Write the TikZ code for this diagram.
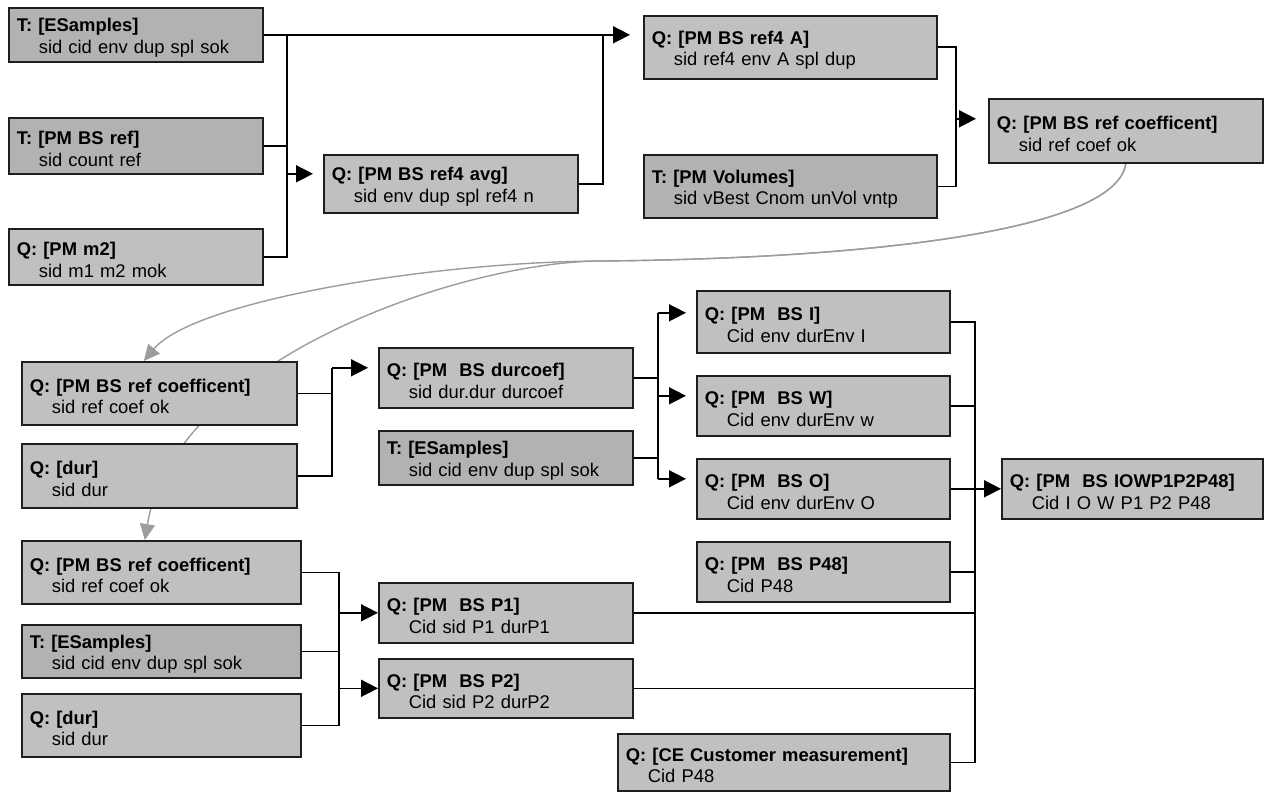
\documentclass[tikz,border=0pt]{standalone}
\usepackage{fontspec}
\setmainfont{Liberation Sans}
\usetikzlibrary{arrows.meta,calc}
\pgfdeclarelayer{bg}
\pgfsetlayers{bg,main}
\definecolor{qfill}{HTML}{C0C0C0}
\definecolor{tfill}{HTML}{B2B2B2}
\definecolor{edgec}{HTML}{1E1E1E}
\definecolor{curvec}{HTML}{9C9C9C}
\tikzset{
  qbox/.style={draw=edgec, line width=1.6pt, fill=qfill, anchor=north west,
    inner xsep=8pt, inner ysep=0pt, align=left, font=\fontsize{18.4}{21.5}\selectfont},
  tbox/.style={qbox, fill=tfill},
  link/.style={draw=black, line width=1.6pt},
  linkarr/.style={link, -{Triangle[length=17pt,width=17pt]}},
  gcurve/.style={draw=curvec, line width=1.4pt, -{Triangle[length=16pt,width=15pt]}},
}
\newcommand\bx[8]{%
  \pgfmathsetmacro\tw{#5-16}%
  \node[#1, minimum width=#5pt, minimum height=#6pt, text width=\tw pt] (#2) at (#3,#4)
    {\rule{0pt}{19.5pt}\textbf{#7}\\\hspace*{22pt}#8};%
}
\begin{document}
\begin{tikzpicture}[x=1pt,y=-1pt]
\useasboundingbox (0,0) rectangle (1265,792);

% boxes
\bx{tbox}{es1}{8}{7}{254}{54}{T: [ESamples]}{sid cid env dup spl sok}
\bx{tbox}{bsref}{8}{117}{254}{56}{T: [PM BS ref]}{sid count ref}
\bx{qbox}{m2}{8}{228}{254}{56}{Q: [PM m2]}{sid m1 m2 mok}
\bx{qbox}{avg}{323}{154}{254}{58}{Q: [PM BS ref4 avg]}{sid env dup spl ref4 n}
\bx{qbox}{r4a}{643}{15}{293}{63}{Q: [PM BS ref4 A]}{sid ref4 env A spl dup}
\bx{tbox}{vol}{643}{154}{293}{63}{T: [PM Volumes]}{sid vBest Cnom unVol vntp}
\bx{qbox}{coefT}{988}{98}{274}{64}{Q: [PM BS ref coefficent]}{sid ref coef ok}

\bx{qbox}{coefM}{21}{361}{275}{63}{Q: [PM BS ref coefficent]}{sid ref coef ok}
\bx{qbox}{dur1}{21}{443}{275}{64}{Q: [dur]}{sid dur}
\bx{qbox}{durcoef}{378}{347}{254}{60}{Q: [PM\ \ BS durcoef]}{sid dur.dur durcoef}
\bx{tbox}{es2}{378}{430}{254}{54}{T: [ESamples]}{sid cid env dup spl sok}

\bx{qbox}{bsI}{696}{290}{253}{62}{Q: [PM\ \ BS I]}{Cid env durEnv I}
\bx{qbox}{bsW}{696}{375}{253}{60}{Q: [PM\ \ BS W]}{Cid env durEnv w}
\bx{qbox}{bsO}{696}{458}{253}{60}{Q: [PM\ \ BS O]}{Cid env durEnv O}
\bx{qbox}{bsP}{696}{541}{253}{60}{Q: [PM\ \ BS P48]}{Cid P48}
\bx{qbox}{iowp}{1001}{458}{261}{60}{Q: [PM\ \ BS IOWP1P2P48]}{Cid I O W P1 P2 P48}

\bx{qbox}{coefB}{21}{540}{279}{63}{Q: [PM BS ref coefficent]}{sid ref coef ok}
\bx{tbox}{es3}{21}{624}{279}{53}{T: [ESamples]}{sid cid env dup spl sok}
\bx{qbox}{dur2}{21}{693}{279}{63}{Q: [dur]}{sid dur}
\bx{qbox}{pone}{378}{582}{254}{60}{Q: [PM\ \ BS P1]}{Cid sid P1 durP1}
\bx{qbox}{ptwo}{378}{658}{254}{59}{Q: [PM\ \ BS P2]}{Cid sid P2 durP2}
\bx{qbox}{ce}{617}{733}{332}{57}{Q: [CE Customer measurement]}{Cid P48}

% bus positions
\coordinate (bus1) at (287,0);
\coordinate (bus2) at (603,0);
\coordinate (bus3) at (956,0);
\coordinate (bus4) at (332,0);
\coordinate (bus5) at (658,0);
\coordinate (bus6) at (975,0);
\coordinate (bus7) at (339,0);
\coordinate (gsplit) at (600,261);

% entry points
\coordinate (avgIn) at ([yshift=10pt]avg.west);
\coordinate (coefTIn) at ([yshift=12pt]coefT.west);
\coordinate (durIn) at ([yshift=10pt]durcoef.west);
\coordinate (iIn) at ([yshift=9pt]bsI.west);
\coordinate (wIn) at ([yshift=10pt]bsW.west);
\coordinate (oIn) at ([yshift=10pt]bsO.west);

% group 1
\draw[linkarr, shorten >=13pt] (es1.east) -- (es1.east -| r4a.west);
\draw[link] (bsref.east) -- (bsref.east -| bus1);
\draw[link] (es1.east -| bus1) |- (m2.east);
\draw[linkarr] (avgIn -| bus1) -- ([xshift=-10pt]avgIn);
\draw[link] (avg.east) -| (es1.east -| bus2);

% group 2
\draw[link] (r4a.east) -| (vol.east -| bus3) -- (vol.east);
\draw[linkarr] (coefTIn -| bus3) -- ([xshift=-12pt]coefTIn);

% group 3
\draw[link] (coefM.east) -- (coefM.east -| bus4);
\draw[link] (dur1.east) -| (durIn -| bus4);
\draw[linkarr] (durIn -| bus4) -- ([xshift=-10pt]durIn);

% group 4
\draw[link] (durcoef.east) -- (durcoef.east -| bus5);
\draw[link] (es2.east) -- (es2.east -| bus5);
\draw[link] (iIn -| bus5) -- (oIn -| bus5);
\draw[linkarr] (iIn -| bus5) -- ([xshift=-10pt]iIn);
\draw[linkarr] (wIn -| bus5) -- ([xshift=-10pt]wIn);
\draw[linkarr] (oIn -| bus5) -- ([xshift=-10pt]oIn);

% group 5
\draw[link] (bsI.east) -| (ce.east -| bus6) -- (ce.east);
\draw[link] (bsW.east) -- (bsW.east -| bus6);
\draw[link] (bsO.east) -- (bsO.east -| bus6);
\draw[link] (bsP.east) -- (bsP.east -| bus6);
\draw[link] (pone.east) -- (pone.east -| bus6);
\draw[link] (ptwo.east) -- (ptwo.east -| bus6);
\draw[linkarr] (bsO.east -| bus6) -- (iowp.west);

% group 6
\draw[link] (coefB.east) -| (dur2.east -| bus7) -- (dur2.east);
\draw[link] (es3.east) -- (es3.east -| bus7);
\draw[linkarr] (pone.west -| bus7) -- (pone.west);
\draw[linkarr] (ptwo.west -| bus7) -- (ptwo.west);

% gray curves behind boxes
\begin{pgfonlayer}{bg}
\draw[gcurve] (coefT.south) .. controls +(-10,70) and +(250,-2) .. (gsplit)
  .. controls +(-170,1) and +(50,-60) .. ([xshift=-15.5pt]coefM.north);
\draw[gcurve] (coefT.south) .. controls +(-10,70) and +(250,-2) .. (gsplit)
  .. controls +(-140,1) and +(30,-180) .. ([xshift=-16.5pt]coefB.north);
\end{pgfonlayer}
\end{tikzpicture}
\end{document}
